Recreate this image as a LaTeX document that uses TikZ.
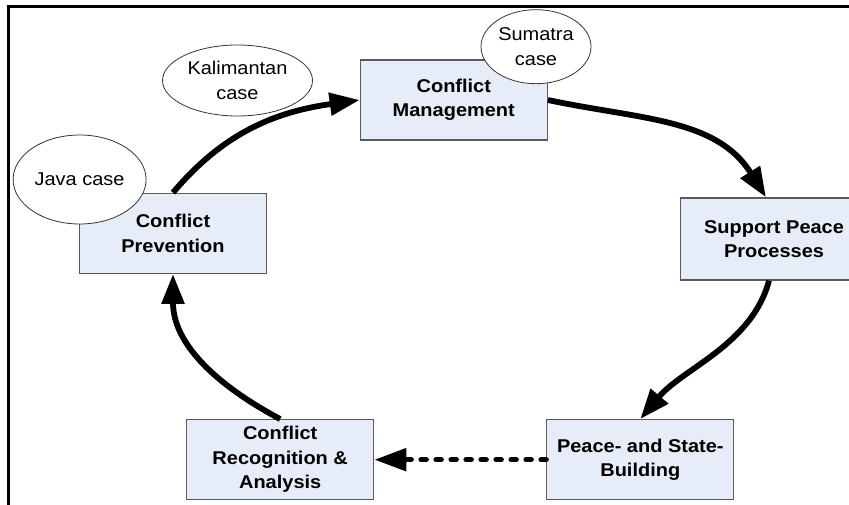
\documentclass[tikz,border=0pt]{standalone}
\usepackage{fontspec}
\setmainfont{Liberation Sans}[FakeStretch=1.08]
\usetikzlibrary{arrows.meta,shapes.geometric}
\definecolor{boxfill}{RGB}{230,236,248}
\definecolor{boxline}{RGB}{90,90,90}
\tikzset{
  stagebox/.style={draw=boxline, fill=boxfill, line width=1.3pt,
    minimum width=187pt, minimum height=80pt, inner sep=2pt, align=center,
    font=\bfseries\fontsize{18.5}{24.5}\selectfont},
  casebubble/.style={ellipse, draw=black!80, fill=white, line width=0.8pt,
    inner sep=0pt, align=center, font=\fontsize{18.5}{25}\selectfont},
  flow/.style={line width=5.8pt, -{Triangle[length=30pt,width=22pt]}},
  weakflow/.style={line width=5.5pt, line cap=round, dash pattern=on 5pt off 10pt,
    -{Triangle[length=32pt,width=22pt]}}
}
\begin{document}
\begin{tikzpicture}[x=1pt,y=1pt]
\useasboundingbox (0,0) rectangle (849,504);
\clip (0,0) rectangle (849,504);
% frame
\draw[line width=3pt] (8.5,-10) -- (8.5,497.5) -- (870,497.5);

% stages of the cycle
\node[stagebox] (mgmt)  at (453.8,404)   {Conflict\\Management};
\node[stagebox] (prev)  at (173,270.7)   {Conflict\\Prevention};
\node[stagebox, minimum height=82pt] (supp) at (774,265) {Support Peace\\Processes};
\node[stagebox] (build) at (640.3,44.3)  {Peace- and State-\\Building};
\node[stagebox] (recog) at (280.2,44.3)  {Conflict\\Recognition \&\\Analysis};

% connectors
\draw[flow] (prev.north) to[out=50,in=188] (mgmt.west);
\draw[flow] (mgmt.east) to[out=-12,in=122] ([xshift=-8pt]supp.north);
\draw[flow] ([xshift=-5pt]supp.south) to[out=-105,in=50,looseness=0.9] (build.north);
\draw[weakflow] (build.west) -- (recog.east);
\draw[flow] (recog.north) to[out=152,in=-90] (prev.south);

% case studies
\node[casebubble, minimum width=110pt, minimum height=74pt] (sumatra) at (536,457.3) {Sumatra\\case};
\node[casebubble, minimum width=150pt, minimum height=71pt] (kalim) at (237.5,423.5) {Kalimantan\\case};
\node[casebubble, minimum width=133pt, minimum height=89pt] (java) at (79.6,324.5) {Java case};
\end{tikzpicture}
\end{document}
